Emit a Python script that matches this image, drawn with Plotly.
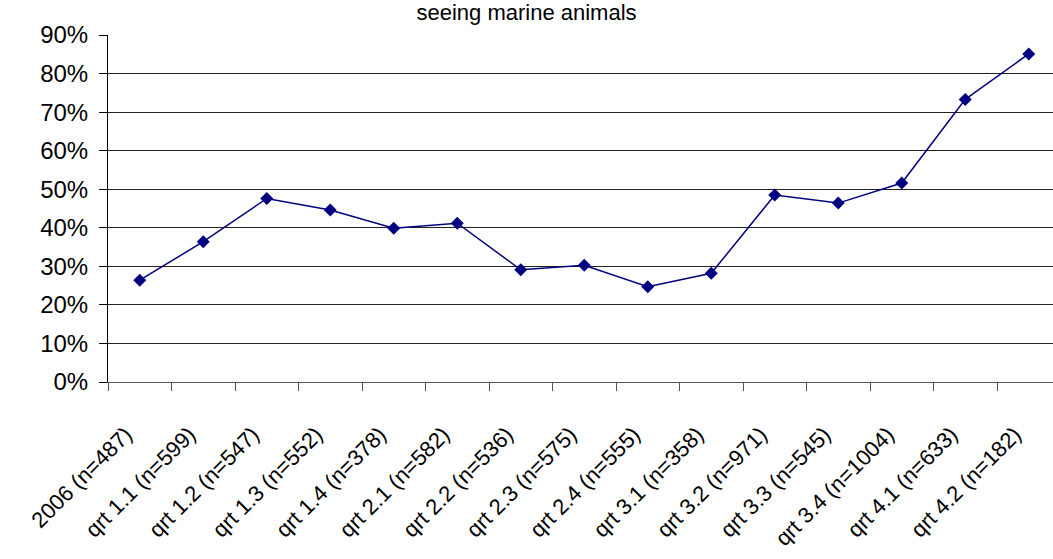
import plotly.graph_objects as go

categories = ["2006 (n=487)", "qrt 1.1 (n=599)", "qrt 1.2 (n=547)", "qrt 1.3 (n=552)",
              "qrt 1.4 (n=378)", "qrt 2.1 (n=582)", "qrt 2.2 (n=536)", "qrt 2.3 (n=575)",
              "qrt 2.4 (n=555)", "qrt 3.1 (n=358)", "qrt 3.2 (n=971)", "qrt 3.3 (n=545)",
              "qrt 3.4 (n=1004)", "qrt 4.1 (n=633)", "qrt 4.2 (n=182)"]
values = [0.264, 0.364, 0.476, 0.446, 0.399, 0.412, 0.291, 0.303, 0.247, 0.282,
          0.485, 0.464, 0.516, 0.733, 0.851]
title_text = "seeing marine animals"

W, H = 1053, 559
left, top, bottom_px = 108, 35, 382.5
step = 63.5
right_val = -0.5 + (W - left) / step

fig = go.Figure()
fig.add_trace(go.Scatter(
    x=categories, y=values, mode="lines+markers",
    line=dict(color="#000080", width=1.5),
    marker=dict(symbol="diamond", size=10, color="#000080"),
    hoverinfo="skip", showlegend=False,
))

fig.update_layout(
    width=W, height=H,
    margin=dict(l=left, r=0, t=top, b=H - bottom_px, autoexpand=False),
    paper_bgcolor="white", plot_bgcolor="white",
    font=dict(family="Liberation Sans, Arial, sans-serif", color="black"),
    title=dict(text=title_text, x=0.5, xanchor="center",
               y=1 - 12 / H, yanchor="middle", yref="container",
               font=dict(size=22, color="black")),
)

fig.update_xaxes(
    type="category", range=[-0.5, right_val],
    tickangle=-45, tickfont=dict(size=22), showgrid=False, zeroline=False,
    showline=True, linecolor="#555555", linewidth=1,
    ticks="outside", ticklen=8, tickcolor="#555555", tickson="boundaries",
    ticklabelstandoff=30, ticklabelshift=-14,
    automargin=False,
)
fig.update_yaxes(
    range=[0, 0.9], dtick=0.1, tickformat=".0%", tickfont=dict(size=24),
    showgrid=True, gridcolor="#222222", gridwidth=1, zeroline=False,
    showline=True, linecolor="black", linewidth=1,
    ticks="outside", ticklen=8, tickcolor="black", ticklabelstandoff=6,
    automargin=False,
)

fig.write_html("out.html", config={"displayModeBar": False},
               post_script="document.body.style.margin='0px';")
